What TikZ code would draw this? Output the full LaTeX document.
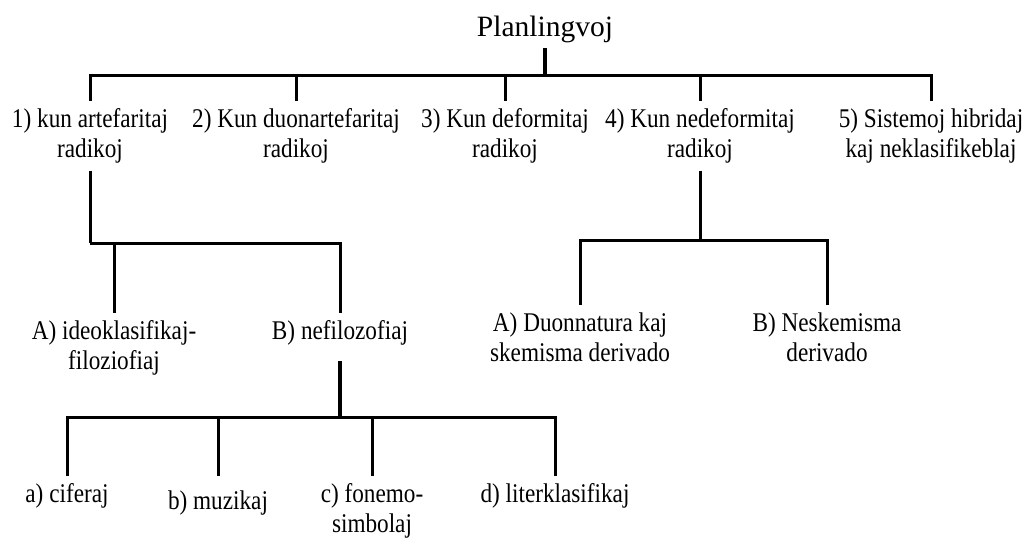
\documentclass[tikz,border=0pt]{standalone}
\usepackage{fontspec}
\setmainfont{Liberation Serif}[FakeStretch=0.86]
\newfontfamily\headfont{Liberation Serif}
\begin{document}
\begin{tikzpicture}[x=1pt,y=-1pt,
  % labels are placed by the baseline of their last line
  lbl/.style={anchor=base, inner sep=0pt, outer sep=0pt, align=center,
              font=\fontsize{27}{30}\selectfont},
  conn/.style={line width=3pt, line join=miter, line cap=butt},
  trunk/.style={conn, line width=3.8pt}]
\useasboundingbox (0,0) rectangle (1031,538);

% root
\node[lbl, font=\headfont\fontsize{29.5}{32}\selectfont] (root) at (545,36) {Planlingvoj};

% first level
\node[lbl] (n1) at (90,157)  {1) kun artefaritaj\\radikoj};
\node[lbl] (n2) at (296,157) {2) Kun duonartefaritaj\\radikoj};
\node[lbl] (n3) at (505,157) {3) Kun deformitaj\\radikoj};
\node[lbl] (n4) at (700,157) {4) Kun nedeformitaj\\radikoj};
\node[lbl] (n5) at (931,157) {5) Sistemoj hibridaj\\kaj neklasifikeblaj};

% second level, under 1)
\node[lbl] (n1a) at (114,369) {A) ideoklasifikaj-\\filoziofiaj};
\node[lbl] (n1b) at (340,339) {B) nefilozofiaj};

% third level, under B)
\node[lbl] (ba) at (67,502)  {a) ciferaj};
\node[lbl] (bb) at (218,509) {b) muzikaj};
\node[lbl] (bc) at (372,532) {c) fonemo-\\simbolaj};
\node[lbl] (bd) at (555,502) {d) literklasifikaj};

% second level, under 4)
\node[lbl] (n4a) at (580,361) {A) Duonnatura kaj\\skemisma derivado};
\node[lbl] (n4b) at (827,361) {B) Neskemisma\\derivado};

% junctions on the horizontal bars
\coordinate (j0) at (545,75);
\coordinate (j1) at (90,243);
\coordinate (jB) at (340,417);
\coordinate (j4) at (700,240);

% root branch
\draw[trunk, shorten <=6pt] (root.south) -- (j0);
\foreach \c in {n1,n2,n3,n4,n5}
  \draw[conn, shorten >=7pt] (j0) -| (\c.north);

% branch of 1)
\draw[conn, shorten <=8pt] (n1.south) -- (j1);
\foreach \c in {n1a,n1b}
  \draw[conn, shorten >=7pt] (j1) -| (\c.north);

% branch of B)
\draw[trunk, shorten <=16pt] (n1b.south) -- (jB);
\foreach \c in {ba,bc,bd}
  \draw[conn, shorten >=7pt] (jB) -| (\c.north);
\draw[conn, shorten >=14pt] (jB) -| (bb.north);

% branch of 4)
\draw[conn, shorten <=8pt] (n4.south) -- (j4);
\foreach \c in {n4a,n4b}
  \draw[conn, shorten >=7pt] (j4) -| (\c.north);
\end{tikzpicture}
\end{document}
